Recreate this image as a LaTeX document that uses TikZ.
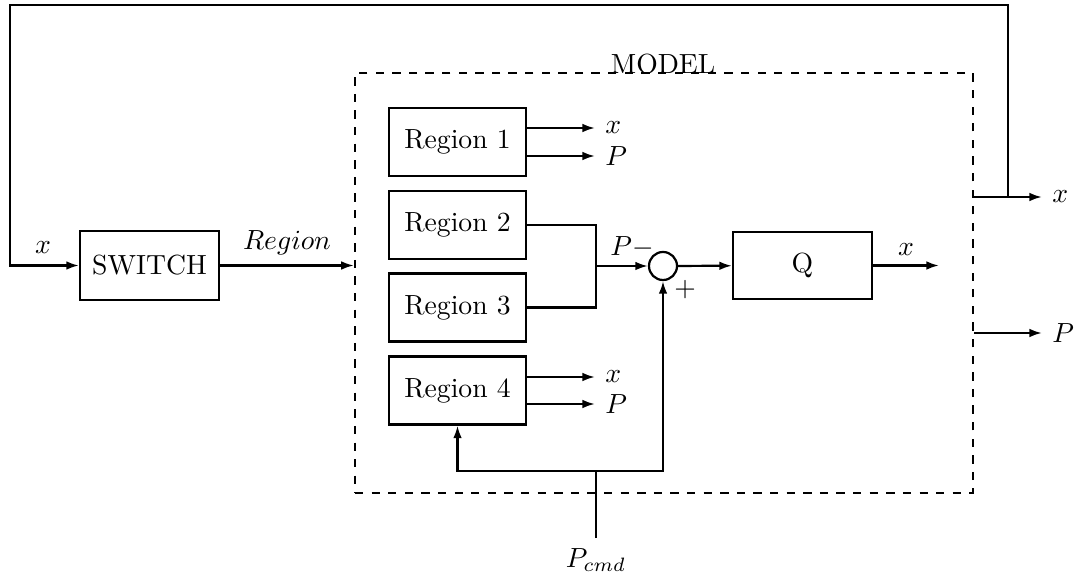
\documentclass[tikz,border=0pt]{standalone}
\usepackage{amsmath}
\usepackage{tikz}
\usetikzlibrary{arrows.meta,positioning,calc}

\begin{document}
\begin{tikzpicture}[
    x=1.27cm, y=1.27cm,
    every path/.style={line width=0.8pt},
    block/.style={rectangle, draw, minimum width=1.765cm, minimum height=0.876cm, align=center},
    regbox/.style={rectangle, draw, minimum width=1.74cm, minimum height=0.864cm, align=center},
    sumnode/.style={circle, draw, inner sep=0pt, minimum size=0.356cm},
    modelbox/.style={rectangle, draw, dashed, minimum width=7.85cm, minimum height=5.334cm},
    arrow/.style={-{Latex[length=1.6mm,width=1.1mm]}}
]
\useasboundingbox (0,0) rectangle (10.76,5.78);

% outer model
\node[modelbox] (model) at (6.64,2.95) {};
\node[anchor=base] (mtitle) at (6.63,5.04) {MODEL};

% blocks
\node[block] (switch) at (1.495,3.125) {SWITCH};
\node[regbox] (r1) at (4.575,4.36) {Region 1};
\node[regbox] (r2) at (4.575,3.53) {Region 2};
\node[regbox] (r3) at (4.575,2.705) {Region 3};
\node[regbox] (r4) at (4.575,1.875) {Region 4};
\node[sumnode] (sum) at (6.63,3.12) {};
\node[block, minimum height=0.85cm] (q) at (8.025,3.125) {Q};

% output labels
\node[anchor=west] (r1x) at (5.95,4.50) {$x$};
\node[anchor=west] (r1p) at (5.95,4.22) {$P$};
\node[anchor=west] (r4x) at (5.95,2.01) {$x$};
\node[anchor=west] (r4p) at (5.95,1.74) {$P$};
\node[anchor=west] (xout) at (10.42,3.81) {$x$};
\node[anchor=west] (pout) at (10.42,2.45) {$P$};
\node (pcmd) at (5.96,0.18) {$P_{cmd}$};
\node (xin) at (0.43,3.30) {$x$};
\node (minus) at (6.32,3.31) {$P-$};
\node (plus) at (6.85,2.88) {$+$};

\coordinate (jn) at (5.96,3.12);
\coordinate (fb) at (10.08,3.81);
\coordinate (fbtop) at (0.10,5.73);
\coordinate (qout) at (9.39,3.125);
\coordinate (split) at (5.96,1.07);

% connections
\draw[arrow] (switch) -- node[above] {$Region$} (switch -| model.west);
\draw[arrow] (r1x -| r1.east) -- (r1x.west);
\draw[arrow] (r1p -| r1.east) -- (r1p.west);
\draw[arrow] (r4x -| r4.east) -- (r4x.west);
\draw[arrow] (r4p -| r4.east) -- (r4p.west);
\draw (r2.east) -| (jn);
\draw (r3.east) -| (jn);
\draw[arrow] (jn) -- (sum.west);
\draw[arrow] (sum) -- (q);
\draw[arrow] (q) -- node[above] {$x$} (qout);

\draw (pcmd) -- (split);
\draw[arrow] (split) -| (r4);
\draw[arrow] (split) -| (sum);

\draw[arrow] (xout -| model.east) -- (xout.west);
\draw[arrow] (pout -| model.east) -- (pout.west);
\draw[arrow] (fb) |- (fbtop) |- (switch.west);
\end{tikzpicture}
\end{document}
